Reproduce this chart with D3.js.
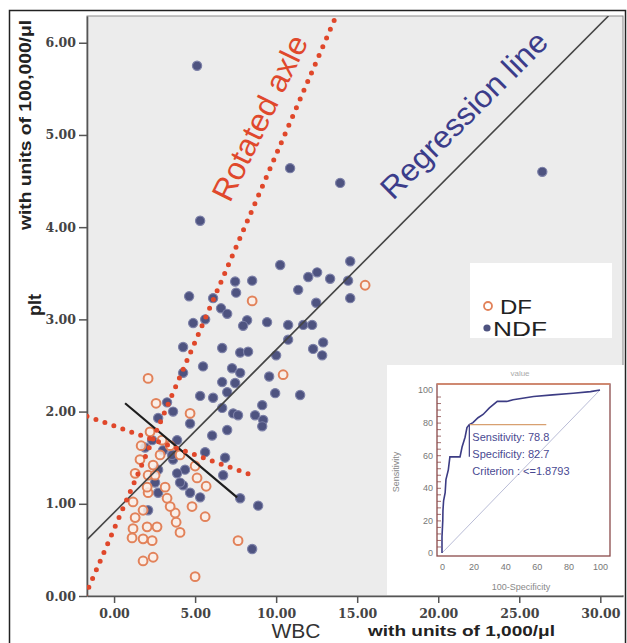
<!DOCTYPE html>
<html><head><meta charset="utf-8">
<script src="https://cdn.jsdelivr.net/npm/d3@7"></script>
<style>body{margin:0;background:#fff}svg{display:block}</style>
</head><body>
<svg id="c" width="627" height="643"></svg>
<script>
// ---------- data ----------
const xTicks = [0, 5, 10, 15, 20, 25, 30];
const yTicks = [0, 1, 2, 3, 4, 5, 6];

const ndfX = [5.12,5.31,10.86,13.95,26.42,10.25,7.47,8.52,7.53,11.36,4.63,6.11,6.60,6.98,5.62,4.88,8.21,7.96,9.44,10.74,11.67,12.22,11.98,4.26,6.67,7.78,8.27,10.00,10.74,5.49,7.28,14.57,12.53,13.33,14.44,14.57,12.47,12.90,12.28,12.84,9.57,11.48,4.26,6.67,7.47,5.31,6.11,6.98,3.27,3.64,6.67,7.35,2.72,4.69,6.98,6.05,1.91,2.35,7.78,9.94,9.14,7.65,8.70,9.20,9.14,5.62,6.85,3.89,3.02,3.64,4.38,3.89,2.72,4.26,4.69,5.31,7.78,8.89,8.52,2.10,2.72,4.07,6.73,2.53,3.58];
const ndfY = [5.75,4.07,4.64,4.48,4.60,3.59,3.41,3.42,3.29,3.32,3.25,3.23,3.12,3.06,3.00,2.96,2.99,2.93,2.97,2.94,2.94,2.94,3.46,2.70,2.69,2.64,2.65,2.61,2.78,2.49,2.47,3.63,3.51,3.44,3.42,3.23,3.18,2.75,2.68,2.61,2.38,2.18,2.42,2.32,2.31,2.17,2.15,2.21,2.10,2.00,2.04,1.98,1.93,1.87,1.80,1.74,1.61,1.69,2.42,2.20,2.07,1.96,1.96,1.91,1.84,1.56,1.50,1.69,1.58,1.48,1.37,1.33,1.37,1.20,1.12,1.07,1.06,0.98,0.51,0.93,1.12,1.23,1.31,1.23,1.53];

const dfX = [8.52,15.49,2.10,10.43,2.59,4.69,1.67,5.12,5.68,5.62,7.65,5.00,1.79,2.41,1.11,1.17,1.79,2.35,2.65,2.04,1.30,1.79,1.17,3.77,3.83,4.07,4.81,3.27,3.15,2.10,2.10,1.30,2.41,2.04,2.53,3.46,2.22,2.96,3.46,4.07,2.84,5.00,1.60];
const dfY = [3.20,3.37,2.36,2.40,2.09,1.98,1.63,1.28,1.19,0.86,0.60,0.21,0.38,0.42,0.63,0.73,0.62,0.60,0.75,0.75,0.85,0.93,1.02,0.90,0.80,0.69,0.97,1.06,1.18,1.12,1.31,1.33,1.42,1.18,1.31,0.97,1.78,1.69,1.63,1.53,1.53,1.41,1.48];

// reference lines (endpoints in data units)
const regX = [-1.67, 30.5],  regY = [0.61, 6.29];
const rotX = [-1.79, 13.7],  rotY = [0.0, 6.29];
const perpX = [-1.67, 8.52], perpY = [1.95, 1.31];
const blkX = [0.68, 7.59],   blkY = [2.09, 1.07];

// inset ROC curve
const rocFpr = [0,0,0.5,0.6,1,2,2.5,4,5,11.4,12.7,14.6,15.8,17.3,19.6,22.8,26,30,35,41,45,58,70,83,94,100];
const rocTpr = [0,10,20,26,32,37,45,51,59,59,65,71,77,78.8,80,83,85,89,93,93,94,96,97,98,99,100];
const rocTicks = [0,20,40,60,80,100];
const criterion = [17.3, 78.8];
const critBoxLow = 59, critBoxRight = 66;
const rocLabels = ["Sensitivity: 78.8", "Specificity: 82.7", "Criterion : <=1.8793"];

// ---------- drawing ----------
const svg = d3.select("#c");
svg.append("rect").attr("x",9.5).attr("y",10.5).attr("width",616).attr("height",640)
  .attr("fill","#fff").attr("stroke","#222").attr("stroke-width",1.5);

const x = d3.scaleLinear().domain([-1.67, 31.4]).range([87, 623]);
const y = d3.scaleLinear().domain([0, 6.29]).range([596, 16]);

svg.append("rect").attr("x",87).attr("y",16).attr("width",536).attr("height",580)
  .attr("fill","#ececec").attr("stroke","#8a8a8a").attr("stroke-width",1);
svg.append("clipPath").attr("id","pc").append("rect")
  .attr("x",87).attr("y",16).attr("width",536).attr("height",580);

// axes
const tickFont = g => g.selectAll("text").attr("font-family","'DejaVu Serif', serif")
  .attr("font-weight","bold").attr("font-size",12.5).attr("fill","#444");
const xa = svg.append("g").attr("transform","translate(0,596)")
  .call(d3.axisBottom(x).tickValues(xTicks).tickFormat(d3.format(".2f")).tickSize(7).tickSizeOuter(0).tickPadding(6));
xa.call(tickFont);
xa.select(".domain").attr("stroke","#555").attr("stroke-width",1.6);
xa.selectAll(".tick line").attr("stroke","#555").attr("stroke-width",1.5);
const ya = svg.append("g").attr("transform","translate(87,0)")
  .call(d3.axisLeft(y).tickValues(yTicks).tickFormat(d3.format(".2f")).tickSize(8).tickSizeOuter(0).tickPadding(3));
ya.call(tickFont);
ya.select(".domain").attr("stroke","#555").attr("stroke-width",1.6);
ya.selectAll(".tick line").attr("stroke","#555").attr("stroke-width",1.5);

// points
const plot = svg.append("g").attr("clip-path","url(#pc)");
plot.selectAll("circle.ndf").data(d3.range(ndfX.length)).join("circle").attr("class","ndf")
  .attr("cx",i=>x(ndfX[i])).attr("cy",i=>y(ndfY[i])).attr("r",4.6)
  .attr("fill","#4e5380").attr("stroke","#7d81a8").attr("stroke-width",1.2);
plot.selectAll("circle.df").data(d3.range(dfX.length)).join("circle").attr("class","df")
  .attr("cx",i=>x(dfX[i])).attr("cy",i=>y(dfY[i])).attr("r",4.4)
  .attr("fill","#fbefe8").attr("fill-opacity",0.85).attr("stroke","#e2825a").attr("stroke-width",2);

// lines
const seg = (xs, ys) => d3.line()(xs.map((v,i)=>[x(v), y(ys[i])]));
plot.append("path").attr("d",seg(regX,regY)).attr("stroke","#444").attr("stroke-width",1.6).attr("fill","none");
plot.append("path").attr("d",seg(blkX,blkY)).attr("stroke","#1e1e1e").attr("stroke-width",2.2).attr("fill","none");
[[rotX,rotY],[perpX,perpY]].forEach(([xs,ys])=>{
  plot.append("path").attr("d",seg(xs,ys)).attr("stroke","#e0472a").attr("stroke-width",5)
    .attr("stroke-linecap","round").attr("stroke-dasharray","0,9.5").attr("fill","none");
});

// annotations
svg.append("text").attr("transform","translate(260,118) rotate(-64)")
  .attr("text-anchor","middle").attr("dominant-baseline","central")
  .attr("font-family","'Liberation Sans', Arial, sans-serif").attr("font-size",31)
  .attr("textLength",180).attr("lengthAdjust","spacingAndGlyphs")
  .attr("fill","#e0482c").text("Rotated axle");
svg.append("text").attr("transform","translate(464,115) rotate(-45)")
  .attr("text-anchor","middle").attr("dominant-baseline","central")
  .attr("font-family","'Liberation Sans', Arial, sans-serif").attr("font-size",31)
  .attr("textLength",222).attr("lengthAdjust","spacingAndGlyphs")
  .attr("fill","#3b3c8a").text("Regression line");

// axis titles
svg.append("text").attr("x",296).attr("y",638).attr("text-anchor","middle")
  .attr("font-family","'Liberation Sans', Arial, sans-serif").attr("font-size",21).attr("fill","#333").text("WBC");
svg.append("text").attr("x",368).attr("y",636)
  .attr("font-family","'Liberation Sans', Arial, sans-serif").attr("font-size",15).attr("font-weight","bold")
  .attr("textLength",187).attr("lengthAdjust","spacingAndGlyphs").attr("fill","#222").text("with units of 1,000/μl");
svg.append("text").attr("transform","translate(41,305) rotate(-90)").attr("text-anchor","middle")
  .attr("font-family","'Liberation Sans', Arial, sans-serif").attr("font-size",18).attr("font-weight","bold")
  .attr("fill","#222").text("plt");
svg.append("text").attr("transform","translate(31,125) rotate(-90)").attr("text-anchor","middle")
  .attr("font-family","'Liberation Sans', Arial, sans-serif").attr("font-size",16).attr("font-weight","bold")
  .attr("textLength",210).attr("lengthAdjust","spacingAndGlyphs").attr("fill","#222").text("with units of 100,000/μl");

// legend
const lg = svg.append("g");
lg.append("rect").attr("x",470).attr("y",263).attr("width",142).attr("height",75).attr("fill","#fff");
lg.append("circle").attr("cx",488).attr("cy",306).attr("r",4).attr("fill","#fff").attr("stroke","#e2825a").attr("stroke-width",1.8);
lg.append("circle").attr("cx",487).attr("cy",328).attr("r",3.6).attr("fill","#4e5380");
lg.append("text").attr("x",500).attr("y",314).attr("font-family","'Liberation Sans', Arial, sans-serif")
  .attr("font-size",21).attr("textLength",32).attr("lengthAdjust","spacingAndGlyphs").attr("fill","#222").text("DF");
lg.append("text").attr("x",493).attr("y",336).attr("font-family","'Liberation Sans', Arial, sans-serif")
  .attr("font-size",21).attr("textLength",54).attr("lengthAdjust","spacingAndGlyphs").attr("fill","#222").text("NDF");

// inset ROC
const ins = svg.append("g");
ins.append("rect").attr("x",387).attr("y",365).attr("width",237).attr("height",230).attr("fill","#fff");
const ix = d3.scaleLinear().domain([0,100]).range([442,600]);
const iy = d3.scaleLinear().domain([0,100]).range([553,390]);
ins.append("line").attr("x1",ix(0)).attr("y1",iy(0)).attr("x2",ix(100)).attr("y2",iy(100))
  .attr("stroke","#b9bcd6").attr("stroke-width",1);
ins.append("rect").attr("x",437).attr("y",384).attr("width",173).attr("height",172)
  .attr("fill","none").attr("stroke","#8b4a4a").attr("stroke-width",1.3);
ins.append("line").attr("x1",437).attr("x2",610).attr("y1",384).attr("y2",384)
  .attr("stroke","#d98a6a").attr("stroke-width",1.6);
const iyAx = ins.append("g").attr("transform","translate(437,0)")
  .call(d3.axisLeft(iy).tickValues(rocTicks).tickSize(0).tickPadding(4));
const ixAx = ins.append("g").attr("transform","translate(0,556)")
  .call(d3.axisBottom(ix).tickValues(rocTicks).tickSize(0).tickPadding(8));
[iyAx, ixAx].forEach(g=>{
  g.select(".domain").remove();
  g.selectAll("text").attr("font-family","'Liberation Sans', Arial, sans-serif").attr("font-size",9).attr("fill","#777");
});
ins.append("g").attr("transform","translate(437,0)")
  .call(d3.axisRight(iy).tickValues(d3.range(4,100,4)).tickSize(4).tickFormat(""))
  .call(g=>{g.select(".domain").remove(); g.selectAll("line").attr("stroke","#8b4a4a").attr("stroke-width",0.8);});
ins.append("path").attr("d",d3.line()(rocFpr.map((v,i)=>[ix(v),iy(rocTpr[i])])))
  .attr("fill","none").attr("stroke","#3c3c84").attr("stroke-width",1.6);
ins.append("line").attr("x1",ix(criterion[0])).attr("x2",ix(critBoxRight))
  .attr("y1",iy(criterion[1])).attr("y2",iy(criterion[1])).attr("stroke","#d8a070").attr("stroke-width",1.2);
ins.append("line").attr("x1",ix(criterion[0])).attr("x2",ix(criterion[0]))
  .attr("y1",iy(criterion[1])).attr("y2",iy(critBoxLow)).attr("stroke","#3c3c84").attr("stroke-width",1.2);
rocLabels.forEach((t,i)=>{
  ins.append("text").attr("x",ix(criterion[0])+3).attr("y",441+i*17)
    .attr("font-family","'Liberation Sans', Arial, sans-serif").attr("font-size",11)
    .attr("fill","#4a4a92").text(t);
});
ins.append("text").attr("x",520).attr("y",376).attr("text-anchor","middle")
  .attr("font-family","'Liberation Sans', Arial, sans-serif").attr("font-size",8).attr("fill","#aaa").text("value");
ins.append("text").attr("transform","translate(399,472) rotate(-90)").attr("text-anchor","middle")
  .attr("font-family","'Liberation Sans', Arial, sans-serif").attr("font-size",9).attr("fill","#888").text("Sensitivity");
ins.append("text").attr("x",521).attr("y",590).attr("text-anchor","middle")
  .attr("font-family","'Liberation Sans', Arial, sans-serif").attr("font-size",9).attr("fill","#888").text("100-Specificity");
</script>
</body></html>
